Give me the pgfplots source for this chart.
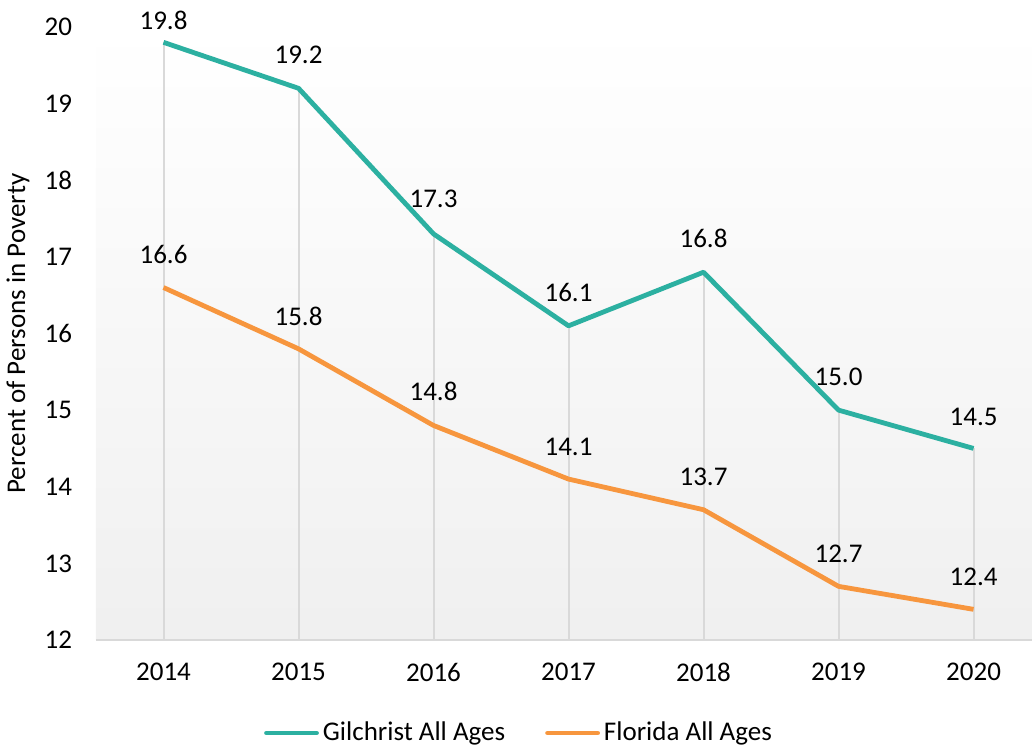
\documentclass[border=0pt]{standalone}
\usepackage{pgfplots}
\pgfplotsset{compat=1.18}
\usepackage{pgfplotstable}
\usepackage{fontspec}
\setmainfont{Carlito}

\definecolor{gilteal}{RGB}{44,176,161}
\definecolor{flaorange}{RGB}{247,150,62}
\definecolor{dropgray}{RGB}{217,217,217}

% x = category index (2014..2020), dy = label offset above point (pt)
\pgfplotstableread{
x y dy
0 19.8 11
1 19.2 16.5
2 17.3 17.5
3 16.1 16.5
4 16.8 17
5 15.0 16.5
6 14.5 16
}\gilchrist

\pgfplotstableread{
x y dy
0 16.6 16.5
1 15.8 16
2 14.8 17
3 14.1 16
4 13.7 16.5
5 12.7 16.5
6 12.4 16.5
}\florida

\begin{document}
\begin{tikzpicture}
\path[use as bounding box] (-48pt,-56.5pt) rectangle (468pt,320pt);
\begin{axis}[
    scale only axis,
    width=468pt, height=306.5pt,
    at={(0,0)}, anchor=south west,
    xmin=-0.5, xmax=6.433,
    ymin=12, ymax=20,
    xtick={0,...,6},
    xticklabels={2014,2015,2016,2017,2018,2019,2020},
    ytick={12,...,20},
    axis x line*=bottom,
    axis y line*=left,
    x axis line style={-, dropgray, line width=1.2pt},
    y axis line style={draw=none},
    major tick length=0pt,
    /pgf/number format/assume math mode=true,
    tick label style={font=\fontsize{13.5}{16}\selectfont, black},
    yticklabel style={xshift=-8.5pt},
    xticklabel style={yshift=-8pt},
    ylabel={Percent of Persons in Poverty},
    every axis y label/.style={at={(axis description cs:-0.0833,0.5)}, rotate=90, anchor=center,
        font=\fontsize{13.5}{16}\selectfont},
    axis background/.style={shade, top color=white, bottom color=black!6},
    clip mode=individual,
    legend style={draw=none, fill=none, at={(axis description cs:0.453,-0.1517)}, anchor=center,
        legend columns=2, font=\fontsize{13.5}{16}\selectfont,
        /tikz/every even column/.append style={column sep=18pt},
        /tikz/every odd column/.append style={column sep=0pt}},
    legend image code/.code={\draw[#1, line cap=round] (0pt,0pt) -- (25pt,0pt);},
    nodes near coords={\pgfmathprintnumber[fixed, fixed zerofill, precision=1]{\pgfplotspointmeta}},
    visualization depends on={\thisrow{dy} \as \dy},
    every node near coord/.append style={anchor=center, yshift=\dy pt,
        font=\fontsize{13.5}{16}\selectfont, black},
]
\addplot[ycomb, dropgray, line width=1pt, forget plot, nodes near coords={}] table[x=x, y=y] {\gilchrist};
\addplot[gilteal, line width=2.4pt, line join=round, mark=none] table[x=x, y=y] {\gilchrist};
\addlegendentry{Gilchrist All Ages}
\addplot[flaorange, line width=2.4pt, line join=round, mark=none] table[x=x, y=y] {\florida};
\addlegendentry{Florida All Ages}
\end{axis}
\end{tikzpicture}
\end{document}
